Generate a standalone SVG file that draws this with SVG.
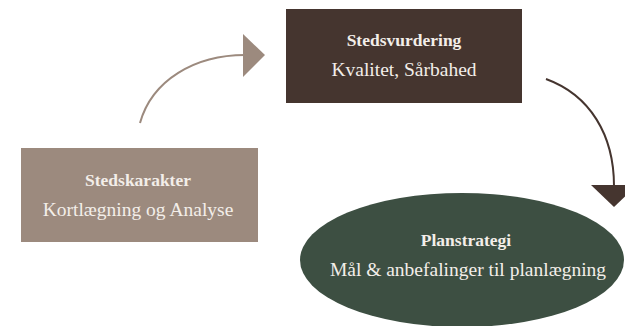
<svg xmlns="http://www.w3.org/2000/svg" width="625" height="326" viewBox="0 0 625 326">
<style>
.t{font-family:"Liberation Serif",serif;font-weight:bold;font-size:17.5px;fill:#f3eee9;text-anchor:middle}
.s{font-family:"Liberation Serif",serif;font-size:19.5px;fill:#f3eee9;text-anchor:middle}
</style>
<rect width="625" height="326" fill="#ffffff"/>
<g id="connectors">
<path d="M140,123 C152,80 195,55 245,55" fill="none" stroke="#9c8a7e" stroke-width="2"/>
<polygon points="243,34 265,55 243,77" fill="#9c8a7e"/>
<path d="M546,79 C590,95 614,135 614,186" fill="none" stroke="#45352f" stroke-width="2"/>
<polygon points="591,185 637,185 614,207" fill="#45352f"/>
</g>
<g id="stedsvurdering">
<rect x="286" y="9" width="236" height="94" fill="#45352f"/>
<text class="t" x="404" y="46">Stedsvurdering</text>
<text class="s" x="404" y="76">Kvalitet, Sårbahed</text>
</g>
<g id="stedskarakter">
<rect x="21" y="148" width="237" height="94" fill="#9c8a7e"/>
<text class="t" x="138" y="186">Stedskarakter</text>
<text class="s" x="138" y="216">Kortlægning og Analyse</text>
</g>
<g id="planstrategi">
<ellipse cx="462" cy="260" rx="162" ry="67" fill="#3d4f42"/>
<text class="t" x="466" y="246">Planstrategi</text>
<text class="s" x="468" y="276">Mål &amp; anbefalinger til planlægning</text>
</g>
</svg>
